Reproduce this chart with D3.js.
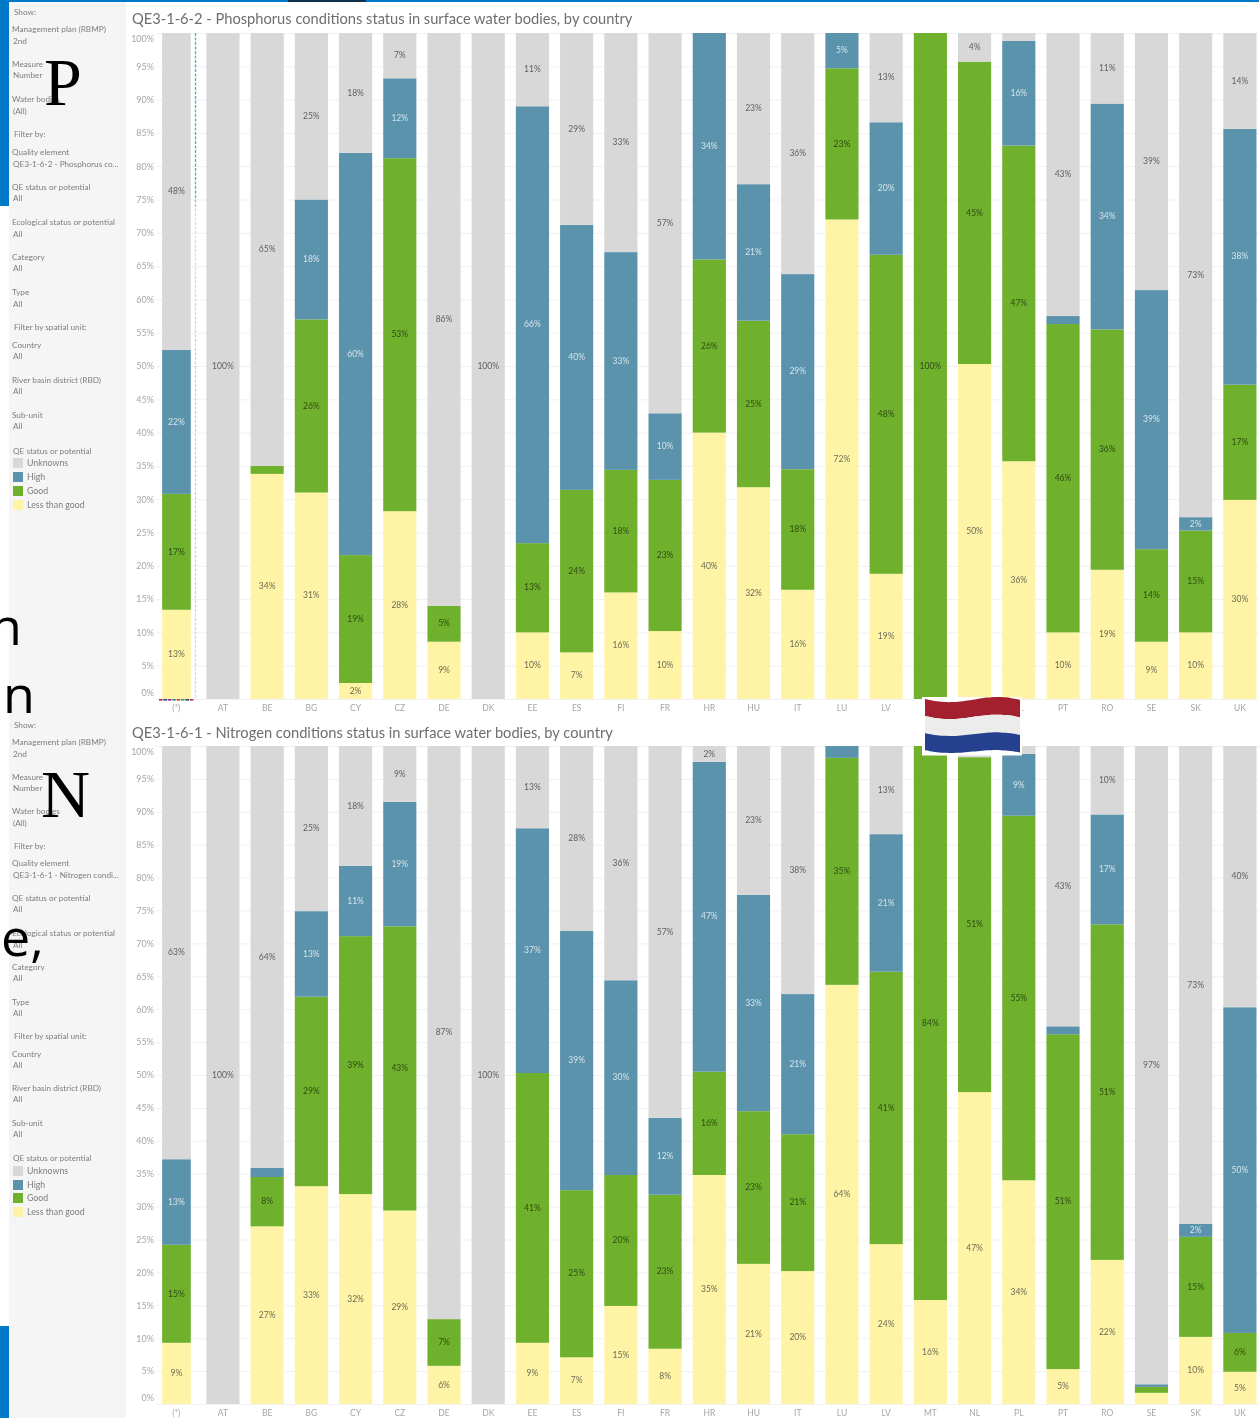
<!DOCTYPE html>
<html>
<head>
<meta charset="utf-8">
<script src="https://cdn.jsdelivr.net/npm/d3@7"></script>
<style>
  html, body { margin: 0; padding: 0; background: #fff; overflow: hidden; }
  svg { display: block; filter: blur(0.35px); }
  text { font-family: Lato, "Open Sans", sans-serif; }
</style>
</head>
<body>
<div id="plot-container"></div>
<script>
// ##################################
//  DATA
// ##################################

const countries = ["(*)", "AT", "BE", "BG", "CY", "CZ", "DE", "DK", "EE", "ES", "FI", "FR", "HR",
  "HU", "IT", "LU", "LV", "MT", "NL", "PL", "PT", "RO", "SE", "SK", "UK"]
const statusKeys = ["Less than good", "Good", "High", "Unknowns"]
const statusColors = ["#fff4a6", "#6fb12c", "#5b93ad", "#d8d8d8"]
const legendOrder = ["Unknowns", "High", "Good", "Less than good"]
const yTicks = d3.range(0, 101, 5)

// Phosphorus, share of water bodies in %
const pLess = [13.4, 0, 33.8, 31, 2.4, 28.2, 8.6, 0, 10, 7, 16, 10.2, 40, 31.8, 16.4, 72, 18.8, 0, 50.3, 35.7, 10, 19.4, 8.6, 10, 29.9]
const pGood = [17.4, 0, 1.2, 26, 19.2, 53, 5.4, 0, 13.4, 24.4, 18.4, 22.7, 26, 25, 18.1, 22.7, 47.9, 100, 45.4, 47.4, 46.3, 36.1, 13.9, 15.3, 17.3]
const pHigh = [21.6, 0, 0, 18, 60.4, 12, 0, 0, 65.6, 39.8, 32.7, 10, 34, 20.5, 29.3, 5.3, 19.9, 0, 0, 15.7, 1.2, 33.9, 38.9, 2, 38.4]
const pUnknown = [47.6, 100, 65, 25, 18, 6.8, 86, 100, 11, 28.8, 32.9, 57.1, 0, 22.7, 36.2, 0, 13.4, 0, 4.3, 1.2, 42.5, 10.6, 38.6, 72.7, 14.4]

// Nitrogen, share of water bodies in %
const nLess = [9.3, 0, 27, 33.1, 31.9, 29.4, 5.8, 0, 9.3, 7.1, 14.9, 8.4, 34.8, 21.3, 20.2, 63.7, 24.3, 15.8, 47.4, 34, 5.3, 21.9, 1.7, 10.2, 4.9]
const nGood = [14.9, 0, 7.5, 28.8, 39.2, 43.2, 7.1, 0, 41, 25.4, 19.9, 23.4, 15.7, 23.2, 20.8, 34.5, 41.4, 84.2, 50.9, 55.4, 50.9, 51, 0.9, 15.2, 5.9]
const nHigh = [13, 0, 1.4, 13, 10.7, 18.9, 0, 0, 37.2, 39.4, 29.6, 11.7, 47.1, 32.9, 21.3, 1.8, 20.9, 0, 0, 9.4, 1.2, 16.7, 0.4, 2, 49.5]
const nUnknown = [62.8, 100, 64.1, 25.1, 18.2, 8.5, 87.1, 100, 12.5, 28.1, 35.6, 56.5, 2.4, 22.6, 37.7, 0, 13.4, 0, 1.7, 1.2, 42.6, 10.4, 97, 72.6, 39.7]

const pFilters = [
  ["Show:", null],
  ["Management plan (RBMP)", "2nd"],
  ["Measure", "Number"],
  ["Water bodies", "(All)"],
  ["Filter by:", null],
  ["Quality element", "QE3-1-6-2 - Phosphorus co..."],
  ["QE status or potential", "All"],
  ["Ecological status or potential", "All"],
  ["Category", "All"],
  ["Type", "All"],
  ["Filter by spatial unit:", null],
  ["Country", "All"],
  ["River basin district (RBD)", "All"],
  ["Sub-unit", "All"],
]
const nFilters = pFilters.map((d) =>
  d[0] === "Quality element" ? [d[0], "QE3-1-6-1 - Nitrogen condi..."] : d)

// ##################################
//  CONSTANTS
// ##################################

const width = 1259
const height = 1418
const panels = [
  {
    title: "QE3-1-6-2 - Phosphorus conditions status in surface water bodies, by country",
    titleY: 24, top: 33, bottom: 699, labelY: 711,
    series: [pLess, pGood, pHigh, pUnknown], filters: pFilters,
    filterY: [12, 29, 64, 99, 134, 152, 187, 222, 257, 292, 327, 345, 380, 415],
    valueY: [null, 41, 75, 111, null, 164, 198, 234, 268, 304, null, 356, 391, 426],
    legendY: 451, legendRows: [463, 477, 491, 505],
  },
  {
    title: "QE3-1-6-1 - Nitrogen conditions status in surface water bodies, by country",
    titleY: 738, top: 746, bottom: 1404, labelY: 1416,
    series: [nLess, nGood, nHigh, nUnknown], filters: nFilters,
    filterY: [725, 742, 777, 811, 846, 863, 898, 933, 967, 1002, 1036, 1054, 1088, 1123],
    valueY: [null, 754, 788, 823, null, 875, 909, 945, 978, 1013, null, 1065, 1099, 1134],
    legendY: 1158, legendRows: [1171, 1185, 1198, 1212],
  },
]
const color = d3.scaleOrdinal(statusKeys, statusColors)
const labelColor = { "Less than good": "#6b6b55", Good: "#2f4a14", High: "#d5e3ea", Unknowns: "#5f5f5f" }

const x = d3.scaleBand().domain(countries).range([156.6, 1262]).paddingInner(0.25).paddingOuter(0.125)

const svg = d3.select("#plot-container").append("svg")
  .attr("width", width).attr("height", height).attr("viewBox", [0, 0, width, height])

// ##################################
//  PAGE BEHIND THE CHARTS
// ##################################

svg.append("rect").attr("width", width).attr("height", height).attr("fill", "#fff")
svg.append("rect").attr("width", width).attr("height", 2).attr("fill", "#0078c8")
svg.append("rect").attr("x", 288).attr("width", 78).attr("height", 2).attr("fill", "#10304f")
svg.append("rect").attr("width", 9).attr("height", 206).attr("fill", "#0078c8")
svg.append("rect").attr("y", 1326).attr("width", 9).attr("height", 92).attr("fill", "#0078c8")
svg.append("rect").attr("x", 9).attr("y", 2).attr("width", 117).attr("height", height).attr("fill", "#f5f5f5")

// ##################################
//  PANELS
// ##################################

const drawPanel = (panel) => {
  const y = d3.scaleLinear().domain([0, 100]).range([panel.bottom, panel.top])
  const g = svg.append("g")

  g.append("text").attr("x", 132).attr("y", panel.titleY)
    .attr("font-size", 14.67).attr("fill", "#6e6e6e").text(panel.title)

  // Grid
  g.append("g").selectAll("line").data(yTicks).join("line")
    .attr("x1", 156).attr("x2", 1259)
    .attr("y1", (d) => y(d) + 0.5).attr("y2", (d) => y(d) + 0.5)
    .attr("stroke", "#f1f1f1")

  // Y axis, the end labels are pulled inside the plot
  g.append("g")
    .attr("transform", "translate(154, 0)")
    .call(d3.axisLeft(y).tickValues(yTicks).tickSize(0).tickPadding(0).tickFormat((d) => d + "%"))
    .call((a) => a.select(".domain").remove())
    .call((a) => a.selectAll("text")
      .attr("font-size", 9).attr("fill", "#a6a6a6")
      .style("font-family", "Lato, sans-serif")
      .attr("dy", (d) => (d === 100 ? "0.95em" : d === 0 ? "-0.35em" : "0.32em")))

  // X axis
  g.append("g")
    .attr("transform", `translate(0, ${panel.bottom})`)
    .call(d3.axisBottom(x).tickSize(0).tickPadding(0))
    .call((a) => a.select(".domain").remove())
    .call((a) => a.selectAll("text")
      .attr("y", panel.labelY - panel.bottom).attr("dy", 0)
      .attr("dx", (d) => (d === "(*)" ? -2.5 : 0))
      .attr("font-size", 8.5).attr("fill", "#a6a6a6")
      .style("font-family", "Lato, sans-serif"))

  // Stacked bars
  const rows = countries.map((c, i) => {
    const row = { country: c }
    statusKeys.forEach((k, s) => { row[k] = panel.series[s][i] })
    return row
  })
  const stacked = d3.stack().keys(statusKeys)(rows)
  const barW = (c) => (c === "(*)" ? x.bandwidth() - 4.5 : x.bandwidth())
  const midX = (c) => x(c) + barW(c) / 2

  const layers = g.append("g").selectAll("g").data(stacked).join("g").attr("fill", (d) => color(d.key))
  layers.selectAll("rect").data((d) => d).join("rect")
    .attr("x", (d) => x(d.data.country))
    .attr("width", (d) => barW(d.data.country))
    .attr("y", (d) => y(d[1]))
    .attr("height", (d) => y(d[0]) - y(d[1]))

  // Value labels, slivers under 1.9% stay unlabelled
  const labels = g.append("g").selectAll("g").data(stacked).join("g")
    .attr("fill", (d) => labelColor[d.key])
  labels.selectAll("text").data((d) => d.filter((v) => v[1] - v[0] >= 1.9)).join("text")
    .attr("x", (d) => midX(d.data.country))
    .attr("y", (d) => y((d[0] + d[1]) / 2))
    .attr("dy", "0.32em").attr("text-anchor", "middle").attr("font-size", 8.5)
    .text((d) => Math.round(d[1] - d[0]) + "%")

  // Filter column
  const side = g.append("g").attr("font-size", 8.2).attr("fill", "#7d7d7d")
  side.selectAll("text.head").data(panel.filters).join("text").attr("class", "head")
    .attr("x", (d) => (d[1] === null ? 14 : 12))
    .attr("y", (d, i) => panel.filterY[i] + 3).text((d) => d[0])
  side.selectAll("text.value").data(panel.filters.filter((d) => d[1] !== null)).join("text")
    .attr("class", "value").attr("x", 13)
    .attr("y", (d) => panel.valueY[panel.filters.indexOf(d)] + 3).text((d) => d[1])

  // Legend
  side.append("text").attr("x", 13).attr("y", panel.legendY + 3).text("QE status or potential")
  const leg = side.selectAll("g.legend").data(legendOrder).join("g").attr("class", "legend")
    .attr("transform", (d, i) => `translate(13, ${panel.legendRows[i]})`)
  leg.append("rect").attr("y", -5).attr("width", 10).attr("height", 10).attr("fill", (d) => color(d))
  leg.append("text").attr("x", 14).attr("y", 3).attr("font-size", 8.8).text((d) => d)
}

panels.forEach(drawPanel)

// ##################################
//  THE DOTTED SLIVER NEXT TO (*) IN THE TOP PANEL
// ##################################

const sliverGrad = svg.append("defs").append("linearGradient").attr("id", "sliver")
  .attr("gradientUnits", "userSpaceOnUse").attr("x1", 0).attr("x2", 0).attr("y1", 33).attr("y2", 699)
const sliverStops = [[0, "#4aa8cc"], [0.24, "#4aa8cc"], [0.27, "#cfe8d8"], [0.5, "#c9d0ea"], [0.7, "#d5c9ea"], [1, "#b7e6ee"]]
sliverGrad.selectAll("stop").data(sliverStops).join("stop")
  .attr("offset", (d) => d[0]).attr("stop-color", (d) => d[1])
svg.append("line").attr("x1", 195.5).attr("x2", 195.5).attr("y1", 33).attr("y2", 699)
  .attr("stroke", "url(#sliver)").attr("stroke-width", 1.3).attr("stroke-dasharray", "3 1.5")
// Base line of the same sliver, short coloured dashes
const baseDash = ["#b0303a", "#2c3f8f", "#8a2f6a", "#1f8a9a", "#c23a3a", "#3f9a4a", "#2c3f8f", "#b0303a"]
svg.append("g").selectAll("rect").data(baseDash).join("rect")
  .attr("x", (d, i) => 159 + i * 4.4).attr("y", 699).attr("width", 3.6).attr("height", 1.6).attr("fill", (d) => d)

// ##################################
//  SLIDE TEXT AND FLAG ON TOP
// ##################################

const bigSerif = [["P", 44, 105], ["N", 41, 817]]
svg.append("g").attr("fill", "#000").selectAll("text").data(bigSerif).join("text")
  .style("font-family", "'Liberation Serif', serif").attr("font-size", 68)
  .attr("x", (d) => d[1]).attr("y", (d) => d[2]).text((d) => d[0])

const bigSans = [["n", -10, 645], ["n", 3, 713], ["e,", 1, 956]]
svg.append("g").attr("fill", "#000").selectAll("text").data(bigSans).join("text")
  .style("font-family", "'Open Sans', sans-serif").attr("font-size", 52)
  .attr("x", (d) => d[1]).attr("y", (d) => d[2]).text((d) => d[0])

// Flag: three wavy bands
const flagY = d3.scaleLinear().domain([0, 3]).range([699, 751])
const flagX = d3.scaleLinear().domain([0, 1]).range([925, 1020])
const wave = (t, band) => flagY(band) + 4 * Math.sin(t * 5.2 + 0.5) * (1 - band * 0.1) + t * 5 - 2
const ts = d3.range(0, 1.01, 0.05)
const bandPath = (band) => {
  const up = ts.map((t) => [flagX(t), wave(t, band)])
  const down = ts.slice().reverse().map((t) => [flagX(t), wave(t, band + 1)])
  return d3.line().curve(d3.curveCatmullRom)(up) + "L" + d3.line().curve(d3.curveCatmullRom)(down).slice(1) + "Z"
}
const flag = svg.append("g")
flag.append("rect").attr("x", 922).attr("y", 697).attr("width", 100).attr("height", 58.5).attr("fill", "#fff")
flag.selectAll("path").data(["#a3202e", "#ececec", "#24408e"]).join("path")
  .attr("d", (d, i) => bandPath(i)).attr("fill", (d) => d)
</script>
</body>
</html>
